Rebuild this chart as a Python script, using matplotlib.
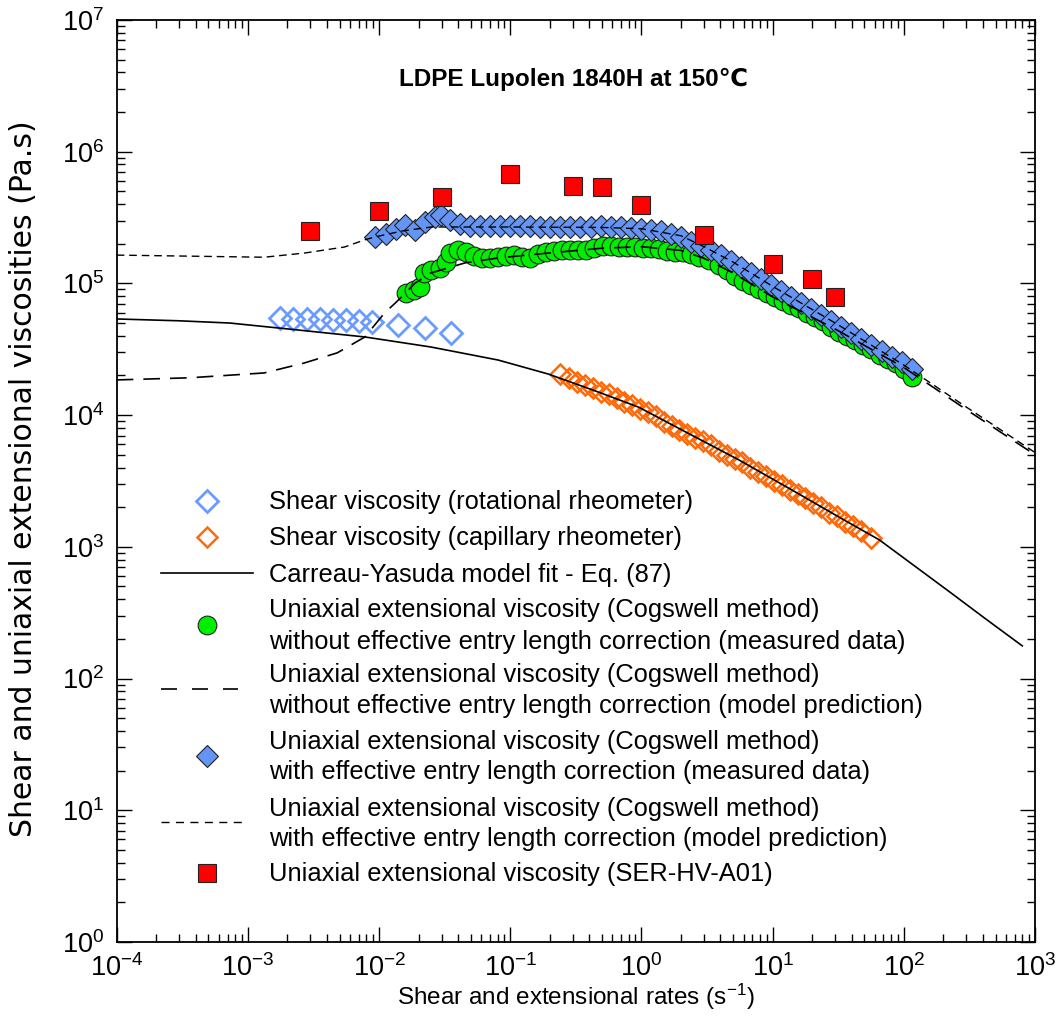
import matplotlib
matplotlib.use("Agg")
import matplotlib.pyplot as plt
from matplotlib.lines import Line2D
from matplotlib import font_manager

plt.rcParams['font.family'] = ['Liberation Sans', 'DejaVu Sans']
plt.rcParams['mathtext.fontset'] = 'custom'
plt.rcParams['mathtext.rm'] = 'Liberation Sans'
plt.rcParams['mathtext.it'] = 'Liberation Sans:italic'

# --- Shear viscosity, rotational rheometer ---
rot_rate = [0.00177, 0.00222, 0.00281, 0.00353, 0.00445, 0.0056, 0.00705, 0.0089, 0.0139, 0.0223, 0.0353]
rot_visc = [54600, 54000, 54000, 53500, 53000, 52500, 52000, 51000, 48300, 45800, 42000]

# --- Shear viscosity, capillary rheometer ---
cap_rate = [0.240, 0.282, 0.324, 0.372, 0.427, 0.490, 0.562, 0.646, 0.741, 0.851,
            0.977, 1.12, 1.29, 1.48, 1.70, 1.95, 2.24, 2.57, 2.95, 3.39,
            3.89, 4.47, 5.13, 5.89, 6.76, 7.76, 8.91, 10.2, 11.7, 13.5,
            15.5, 17.8, 20.4, 23.4, 26.9, 30.9, 35.5, 40.7, 46.8, 56.2]
cap_visc = [20400, 19100, 17800, 17000, 16200, 15100, 14500, 13500, 12600, 12000,
            11200, 10500, 9770, 8910, 8320, 7760, 7240, 6760, 6310, 5890,
            5370, 5010, 4680, 4370, 3980, 3720, 3470, 3160, 2950, 2690,
            2510, 2340, 2140, 2000, 1820, 1700, 1550, 1450, 1320, 1170]

# --- Carreau-Yasuda fit ---
cy_rate = [1e-4, 3e-4, 7.3e-4, 2.4e-3, 7.8e-3, 0.0248, 0.0807, 0.195, 0.45, 0.95,
           2.2, 5.55, 15, 35, 65, 130, 224, 420, 800]
cy_visc = [53700, 52000, 50000, 44300, 39200, 32900, 26200, 20500, 15200, 11500,
           7400, 4560, 2600, 1600, 1130, 678, 454, 284, 177]

# --- Cogswell, without entry length correction (measured) ---
cog_raw_rate = [0.0160, 0.0184, 0.0205, 0.0219, 0.0248, 0.0291, 0.0324, 0.0347, 0.0399, 0.0460,
                0.0530, 0.0610, 0.0702, 0.0807, 0.0930, 0.107, 0.123, 0.142, 0.163, 0.188,
                0.217, 0.250, 0.287, 0.331, 0.381, 0.438, 0.505, 0.581, 0.670, 0.771,
                0.888, 1.02, 1.18, 1.35, 1.56, 1.80, 2.07, 2.38, 2.74, 3.27,
                3.90, 4.49, 5.17, 5.95, 6.84, 7.88, 9.08, 10.4, 12.0, 13.8,
                16.0, 18.4, 21.1, 24.3, 28.0, 32.3, 37.2, 42.8, 49.2, 56.7,
                65.3, 75.2, 86.5, 99.6, 115]
cog_raw_visc = [84500, 89100, 93900, 120000, 126000, 131000, 145000, 170000, 179000, 173000,
                161000, 156000, 156000, 159000, 161000, 164000, 159000, 156000, 167000, 173000,
                176000, 179000, 179000, 179000, 179000, 186000, 192000, 192000, 189000, 189000,
                189000, 186000, 186000, 182000, 176000, 173000, 174000, 168000, 160000, 150000,
                138000, 127000, 114000, 105000, 97500, 91000, 85000, 79500, 74000, 69000,
                64500, 60000, 56000, 51500, 47000, 43000, 40200, 37000, 34300, 31500,
                28800, 26800, 24800, 22500, 19500]

# --- Cogswell, without entry length correction (model) ---
cog_raw_model_rate = [1e-4, 3.6e-4, 1.33e-3, 2.7e-3, 4.8e-3, 7.8e-3, 0.011, 0.0133, 0.016, 0.0187,
                      0.0248, 0.0451, 0.0807, 0.195, 0.5, 1.0, 2.0, 3.0, 5.0, 10,
                      30, 100, 300, 1000]
cog_raw_model_visc = [18500, 19200, 20900, 24900, 29700, 39200, 59600, 71000, 85000, 100000,
                      120000, 143000, 156000, 170000, 185000, 190000, 178000, 155000, 120000, 79000,
                      45000, 23000, 11000, 5000]

# --- Cogswell, with entry length correction (measured) ---
cog_cor_rate = [0.00925, 0.0112, 0.0134, 0.0157, 0.0187, 0.0223, 0.0266, 0.0296, 0.0347, 0.0414,
                0.0493, 0.0589, 0.0702, 0.0838, 0.0998, 0.119, 0.142, 0.169, 0.202, 0.241,
                0.287, 0.343, 0.409, 0.488, 0.581, 0.693, 0.826, 0.986, 1.18, 1.40,
                1.67, 1.99, 2.38, 2.84, 3.38, 4.03, 4.81, 5.74, 6.84, 8.16,
                9.73, 11.6, 13.8, 16.5, 19.7, 23.5, 28.0, 33.4, 39.9, 47.5,
                56.7, 67.6, 80.7, 96.2, 115]
cog_cor_visc = [225000, 237000, 259000, 278000, 254000, 292000, 319000, 331000, 303000, 282000,
                273000, 273000, 273000, 273000, 273000, 273000, 273000, 268000, 268000, 268000,
                268000, 268000, 268000, 273000, 268000, 268000, 263000, 259000, 254000, 250000,
                237000, 225000, 206000, 192000, 179000, 164000, 148000, 133000, 120000, 108000,
                97300, 87500, 78800, 71000, 63900, 57500, 51800, 46700, 42000, 37800,
                34000, 30700, 27600, 25300, 22400]

# --- Cogswell, with entry length correction (model) ---
cog_cor_model_rate = [1e-4, 3.6e-4, 1.33e-3, 2.7e-3, 5.46e-3, 7.76e-3, 9.25e-3, 0.015, 0.025, 0.1,
                      0.5, 1.0, 2.0, 3.0, 5.0, 10, 30, 100, 300, 1000]
cog_cor_model_visc = [164000, 161000, 158000, 170000, 189000, 214000, 225000, 250000, 268000, 268000,
                      266000, 260000, 230000, 190000, 145000, 95000, 50000, 24000, 11500, 5200]

# --- SER-HV-A01 ---
ser_rate = [0.003, 0.01, 0.03, 0.1, 0.3, 0.5, 1, 3, 10, 20, 30]
ser_visc = [250000, 355000, 453000, 677000, 550000, 540000, 394000, 233000, 140000, 108000, 78800]

# Decade ticks
x_ticks = [1e-4, 1e-3, 1e-2, 1e-1, 1e0, 1e1, 1e2, 1e3]
y_ticks = [1e0, 1e1, 1e2, 1e3, 1e4, 1e5, 1e6, 1e7]

# Legend texts (one list entry per text line group)
labels = [
    ["Shear viscosity (rotational rheometer)"],
    ["Shear viscosity (capillary rheometer)"],
    ["Carreau-Yasuda model fit - Eq. (87)"],
    ["Uniaxial extensional viscosity (Cogswell method)",
     "without effective entry length correction (measured data)"],
    ["Uniaxial extensional viscosity (Cogswell method)",
     "without effective entry length correction (model prediction)"],
    ["Uniaxial extensional viscosity (Cogswell method)",
     "with effective entry length correction (measured data)"],
    ["Uniaxial extensional viscosity (Cogswell method)",
     "with effective entry length correction (model prediction)"],
    ["Uniaxial extensional viscosity (SER-HV-A01)"],
]

light_blue = '#6A9BFF'
orange = '#FF6A0A'
green = '#00EE00'
blue = '#6495F5'
red = '#FF0000'
edge = '#222222'

style_rot = dict(ls='none', marker='D', ms=11, mfc='none', mec=light_blue, mew=2.0)
style_cap = dict(ls='none', marker='D', ms=10.5, mfc='none', mec=orange, mew=1.8)
style_cy = dict(color='black', lw=1.2)
style_raw = dict(ls='none', marker='o', ms=13.5, mfc=green, mec=edge, mew=0.8)
style_cor = dict(ls='none', marker='D', ms=11, mfc=blue, mec=edge, mew=0.8)
style_rawm = dict(color='black', lw=1.2, dashes=(10, 6))
style_corm = dict(color='black', lw=1.0, dashes=(5.5, 3.5))
style_ser = dict(ls='none', marker='s', ms=12.5, mfc=red, mec=edge, mew=0.8)

# Condensed face for the rate-axis title when available
installed = {f.name for f in font_manager.fontManager.ttflist}
if 'Liberation Sans Narrow' in installed:
    xlab_family, xlab_size = ['Liberation Sans Narrow'], 20.5
else:
    xlab_family, xlab_size = ['Liberation Sans'], 17.5

fig = plt.figure(figsize=(10.61, 10.19), dpi=100)
ax = fig.add_axes([0.110, 0.0756, 0.8655, 0.9048])

ax.plot(rot_rate, rot_visc, zorder=3, **style_rot)
ax.plot(cap_rate, cap_visc, zorder=3, **style_cap)
ax.plot(cy_rate, cy_visc, zorder=4, **style_cy)
ax.plot(cog_raw_rate, cog_raw_visc, zorder=5, **style_raw)
ax.plot(cog_cor_rate, cog_cor_visc, zorder=6, **style_cor)
ax.plot(cog_raw_model_rate, cog_raw_model_visc, zorder=7, **style_rawm)
ax.plot(cog_cor_model_rate, cog_cor_model_visc, zorder=7, **style_corm)
ax.plot(ser_rate, ser_visc, zorder=8, **style_ser)

ax.set_xscale('log')
ax.set_yscale('log')
ax.set_xticks(x_ticks)
ax.set_yticks(y_ticks)
ax.set_xlim(1e-4, 1e3)
ax.set_ylim(1e0, 1e7)

ax.tick_params(which='both', direction='in', top=True, right=True, labelsize=19.5)
ax.tick_params(which='major', length=11, width=1.0, pad=9)
ax.tick_params(which='minor', length=5.5, width=1.0)
for s in ax.spines.values():
    s.set_linewidth(1.3)

ax.set_xlabel("Shear and extensional rates (s$^{-1}$)", fontsize=xlab_size,
              family=xlab_family, labelpad=0)
ax.set_ylabel("Shear and uniaxial extensional viscosities (Pa.s)", fontsize=21.5,
              family=['DejaVu Sans'])
ax.yaxis.set_label_coords(-0.086, 0.502)

ax.text(0.497, 0.935, "LDPE Lupolen 1840H at 150℃", transform=ax.transAxes,
        ha='center', va='center', fontsize=17.5, fontweight='bold')

# Legend key block, placed in figure pixels
W, H = 1061.0, 1019.0


def fx(px):
    return px / W


def fy(py):
    return 1.0 - py / H


key_x0, key_x1, key_xm, text_x = 161, 253, 207, 269
entries = [
    (style_rot, None, [500]),
    (style_cap, None, [536]),
    (style_cy, key_x1, [573]),
    (style_raw, None, [608, 640]),
    (dict(color='black', lw=1.2, dashes=(9.6, 9.0)), 238, [673, 704]),
    (style_cor, None, [740, 770]),
    (dict(color='black', lw=1.0, dashes=(5.8, 4.6)), 247, [807, 837]),
    (style_ser, None, [872]),
]
for (st, x_end, rows), lines in zip(entries, labels):
    yc = sum(rows) / len(rows)
    if x_end is None:
        key = Line2D([fx(key_xm)], [fy(yc + 1)], transform=fig.transFigure, **st)
    else:
        key = Line2D([fx(key_x0), fx(x_end)], [fy(yc), fy(yc)], transform=fig.transFigure, **st)
    fig.add_artist(key)
    for row, txt in zip(rows, lines):
        fig.text(fx(text_x), fy(row + 9), txt, fontsize=18.4, va='baseline', ha='left')

fig.savefig('out.png', dpi=100)
